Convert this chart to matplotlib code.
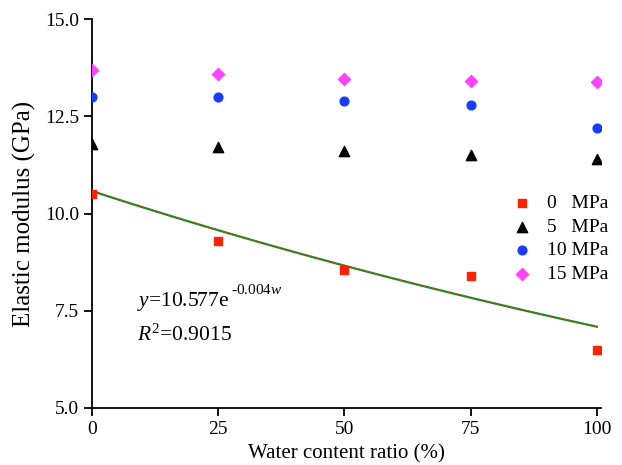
import numpy as np
import matplotlib
matplotlib.use("Agg")
import matplotlib.pyplot as plt

plt.rcParams["font.family"] = ["Liberation Serif", "DejaVu Serif"]
plt.rcParams["mathtext.fontset"] = "custom"
plt.rcParams["mathtext.rm"] = "Liberation Serif"
plt.rcParams["mathtext.it"] = "Liberation Serif:italic"

# Data
water = [0, 25, 50, 75, 100]
e_0mpa = [10.5, 9.3, 8.55, 8.4, 6.5]
e_5mpa = [11.8, 11.7, 11.6, 11.5, 11.4]
e_10mpa = [13.0, 13.0, 12.9, 12.8, 12.2]
e_15mpa = [13.7, 13.6, 13.45, 13.4, 13.37]

# Exponential fit of the 0 MPa series (as printed on the chart)
fit_a = 10.577
fit_b = -0.004

fig = plt.figure(figsize=(6.22, 4.65), dpi=100)
ax = fig.add_axes([0.148, 0.1226, 0.818, 0.8364])

ax.scatter(water, e_0mpa, marker="s", s=40, color="#ff2200", label="0   MPa", zorder=3)
ax.scatter(water, e_5mpa, marker="^", s=55, color="black", label="5   MPa", zorder=3)
ax.scatter(water, e_10mpa, marker="o", s=40, color="#1a3cff", label="10 MPa", zorder=3)
ax.scatter(water, e_15mpa, marker="D", s=38, color="#ff44ff", label="15 MPa", zorder=3)

w = np.linspace(0, 100, 101)
fit = fit_a * np.exp(fit_b * w)
ax.plot(w, fit, color="#1a8a1a", lw=1.6, zorder=2)
ax.plot(w, fit, color="#ff3030", lw=0.8, ls=(0, (1.5, 3)), zorder=2)

# fit equation: main part plus a separate superscript
eq = ax.text(8.9, 7.62, r"$\mathit{y}$=10.577e", fontsize=15.5)
ax.annotate(r"-0.004$\mathit{w}$", xy=(1, 1), xycoords=eq, xytext=(1, -5),
            textcoords="offset points", fontsize=11, va="bottom")
ax.text(8.9, 6.72, r"$\mathit{R}^{2}$=0.9015", fontsize=15.5)

ax.set_xlim(0, 100.8)
ax.set_ylim(5.0, 15.0)
ax.set_xticks([0, 25, 50, 75, 100])
ax.set_yticks([5.0, 7.5, 10.0, 12.5, 15.0])
ax.set_yticklabels(["5.0", "7.5", "10.0", "12.5", "15.0"])
ax.tick_params(direction="out", length=6, width=1.3, labelsize=14)
for side in ["top", "right"]:
    ax.spines[side].set_visible(False)
for side in ["left", "bottom"]:
    ax.spines[side].set_linewidth(1.3)

ax.set_xlabel("Water content ratio (%)", fontsize=15, labelpad=4)
ax.set_ylabel("Elastic modulus (GPa)", fontsize=18, labelpad=6)

ax.legend(loc="center right", bbox_to_anchor=(1.03, 0.435), frameon=False, fontsize=14,
          handletextpad=0.3, labelspacing=0.3, borderaxespad=0)

fig.savefig("out.png", dpi=100)
